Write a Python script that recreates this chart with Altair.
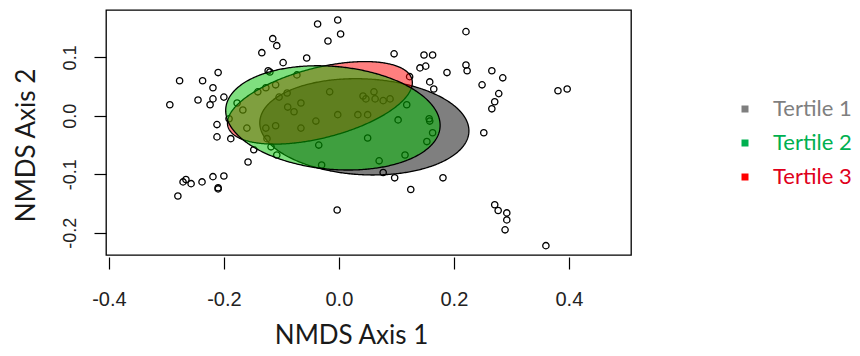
import math
import altair as alt
import pandas as pd

# --- site scores (NMDS axis 1 / axis 2) ---
nmds1 = [-0.294, -0.277, -0.245, -0.237, -0.219, -0.224, -0.219, -0.200, -0.210, -0.212,
         -0.212, -0.188, -0.158, -0.134, -0.115, -0.108, -0.097, -0.123, -0.120, -0.056,
         -0.037, -0.002, -0.019, 0.003, 0.096, 0.148, 0.163, 0.141, 0.151, 0.188,
         0.221, 0.221, 0.223, 0.266, 0.285, 0.249, 0.278, 0.271, 0.266, 0.252,
         0.381, 0.397, 0.123, 0.158, 0.165, -0.073, -0.177, -0.167, -0.191, -0.141,
         -0.127, -0.110, -0.104, -0.090, -0.089, -0.078, -0.066, -0.016, -0.160, -0.127,
         -0.110, -0.066, -0.125, -0.118, -0.108, -0.148, -0.040, -0.002, 0.033, 0.050,
         0.042, 0.047, 0.061, 0.063, 0.077, 0.089, 0.118, -0.035, -0.030, 0.050,
         0.070, 0.103, 0.115, 0.157, 0.158, 0.163, 0.153, 0.077, 0.097, 0.181,
         0.125, -0.003, -0.280, -0.271, -0.266, -0.257, -0.238, -0.219, -0.200, -0.210,
         -0.210, 0.271, 0.277, 0.292, 0.292, 0.289, 0.360]
nmds2 = [0.019, 0.060, 0.027, 0.060, 0.048, 0.019, 0.029, 0.032, 0.074, -0.015,
         -0.036, -0.039, -0.079, 0.108, 0.132, 0.120, 0.091, 0.077, 0.075, 0.099,
         0.157, 0.164, 0.128, 0.140, 0.106, 0.104, 0.104, 0.082, 0.085, 0.074,
         0.144, 0.087, 0.077, 0.077, 0.065, 0.053, 0.038, 0.024, 0.012, -0.029,
         0.043, 0.046, 0.067, 0.058, 0.046, 0.070, 0.022, 0.010, -0.005, 0.041,
         0.048, 0.053, 0.032, 0.039, 0.015, 0.007, 0.022, 0.041, -0.021, -0.021,
         -0.017, -0.021, -0.039, -0.053, -0.067, -0.058, -0.009, 0.002, 0.002, 0.002,
         0.034, 0.029, 0.041, 0.029, 0.026, 0.029, 0.019, -0.050, -0.084, -0.038,
         -0.077, -0.007, -0.067, -0.005, -0.009, -0.029, -0.044, -0.097, -0.106, -0.106,
         -0.126, -0.161, -0.137, -0.113, -0.109, -0.116, -0.113, -0.104, -0.103, -0.123,
         -0.125, -0.152, -0.162, -0.166, -0.178, -0.195, -0.222]

# --- tertile ellipses: centre, semi-axes and rotation (degrees) ---
tertiles = ["Tertile 1", "Tertile 2", "Tertile 3"]
ell_cx = [0.0443, -0.0104, -0.0330]
ell_cy = [-0.0188, -0.0035, 0.0222]
ell_a = [0.182, 0.187, 0.165]
ell_b = [0.082, 0.088, 0.060]
ell_deg = [-2.7, -5.0, 14.0]

ell_fill = ["#000000", "#00c000", "#ff0000"]
ell_opacity = [0.5, 0.5, 0.5]
legend_colors = ["#7f7f7f", "#00b050", "#ff0000"]

x_ticks = [-0.4, -0.2, 0.0, 0.2, 0.4]
y_ticks = [-0.2, -0.1, 0.0, 0.1]


def ellipse_outline(cx, cy, a, b, deg, n=240):
    th = math.radians(deg)
    c, s = math.cos(th), math.sin(th)
    W = math.sqrt(a * a * c * c + b * b * s * s)
    A = s * s / (a * a) + c * c / (b * b)
    rows = []
    for i in range(n + 1):
        dx = -W * math.cos(math.pi * i / n)
        B = 2 * dx * c * s * (1 / (a * a) - 1 / (b * b))
        C = dx * dx * (c * c / (a * a) + s * s / (b * b)) - 1
        disc = max(B * B - 4 * A * C, 0.0)
        r = math.sqrt(disc)
        y1 = (-B + r) / (2 * A)
        y2 = (-B - r) / (2 * A)
        rows.append({"x": cx + dx, "yhi": cy + max(y1, y2), "ylo": cy + min(y1, y2)})
    return pd.DataFrame(rows)


xscale = alt.Scale(domain=[-0.405, 0.508], nice=False, zero=False)
yscale = alt.Scale(domain=[-0.238, 0.181], nice=False, zero=False)

pts = pd.DataFrame({"x": nmds1, "y": nmds2})

lab_expr = "datum.value < 0 ? '-' + format(abs(datum.value), '.1f') : format(datum.value, '.1f')"

x_axis = alt.Axis(
    values=x_ticks, grid=False, domain=False, tickColor="black", tickSize=12, tickWidth=1.2,
    offset=2, labelFont="Liberation Sans", labelFontSize=20, labelColor="#222222",
    labelPadding=20, labelExpr=lab_expr,
    title="NMDS Axis 1", titleFont="Lato", titleFontSize=26, titleFontWeight="normal",
    titleColor="#1a1a1a", titleX=245, titleY=86, titleAlign="center", titleBaseline="alphabetic",
)
y_axis = alt.Axis(
    values=y_ticks, grid=False, domain=False, tickColor="black", tickSize=12, tickWidth=1.2,
    labelFont="Liberation Sans", labelFontSize=18, labelColor="#222222", labelAngle=270,
    labelAlign="center", labelBaseline="bottom", labelPadding=15, labelExpr=lab_expr,
    title="NMDS Axis 2", titleFont="Lato", titleFontSize=26, titleFontWeight="normal",
    titleColor="#1a1a1a", titleAngle=270, titleX=-72, titleY=135, titleAlign="center",
    titleBaseline="alphabetic",
)

points = alt.Chart(pts).mark_point(
    shape="circle", size=40, filled=False, color="black", strokeWidth=1.3, opacity=1
).encode(
    x=alt.X("x:Q", scale=xscale, axis=x_axis),
    y=alt.Y("y:Q", scale=yscale, axis=y_axis),
)

layers = [points]
for i in [0, 2, 1]:  # draw order: Tertile 1, Tertile 3, Tertile 2
    df = ellipse_outline(ell_cx[i], ell_cy[i], ell_a[i], ell_b[i], ell_deg[i])
    layers.append(
        alt.Chart(df).mark_area(
            fill=ell_fill[i], fillOpacity=ell_opacity[i], stroke="black", strokeWidth=1.3,
            strokeOpacity=1, interpolate="linear",
        ).encode(
            x=alt.X("x:Q", scale=xscale),
            y=alt.Y("yhi:Q", scale=yscale),
            y2="ylo:Q",
        )
    )

leg_df = pd.DataFrame({"tertile": tertiles, "x": ell_cx, "y": ell_cy})
legend_layer = alt.Chart(leg_df).mark_square(opacity=0, size=10).encode(
    x=alt.X("x:Q", scale=xscale),
    y=alt.Y("y:Q", scale=yscale),
    color=alt.Color(
        "tertile:N",
        scale=alt.Scale(domain=tertiles, range=legend_colors),
        legend=alt.Legend(
            title=None, orient="none", legendX=628, legendY=88, symbolType="square",
            symbolSize=49, symbolOpacity=1, symbolStrokeWidth=0, labelFont="Lato",
            labelFontSize=22, labelOffset=17, rowPadding=12,
            labelColor={"expr": "datum.label == 'Tertile 1' ? '#7f7f7f' : datum.label == 'Tertile 2' ? '#00b050' : '#e0001b'"},
        ),
    ),
)
layers.append(legend_layer)

chart = alt.layer(*layers).properties(
    width=525, height=245,
    background="white",
    autosize=alt.AutoSizeParams(type="none"),
    padding={"left": 98, "top": 2, "right": 221, "bottom": 93},
).configure_view(stroke="black", strokeWidth=1.3)

chart.save("out.html", embed_options={"renderer": "svg", "actions": False})
